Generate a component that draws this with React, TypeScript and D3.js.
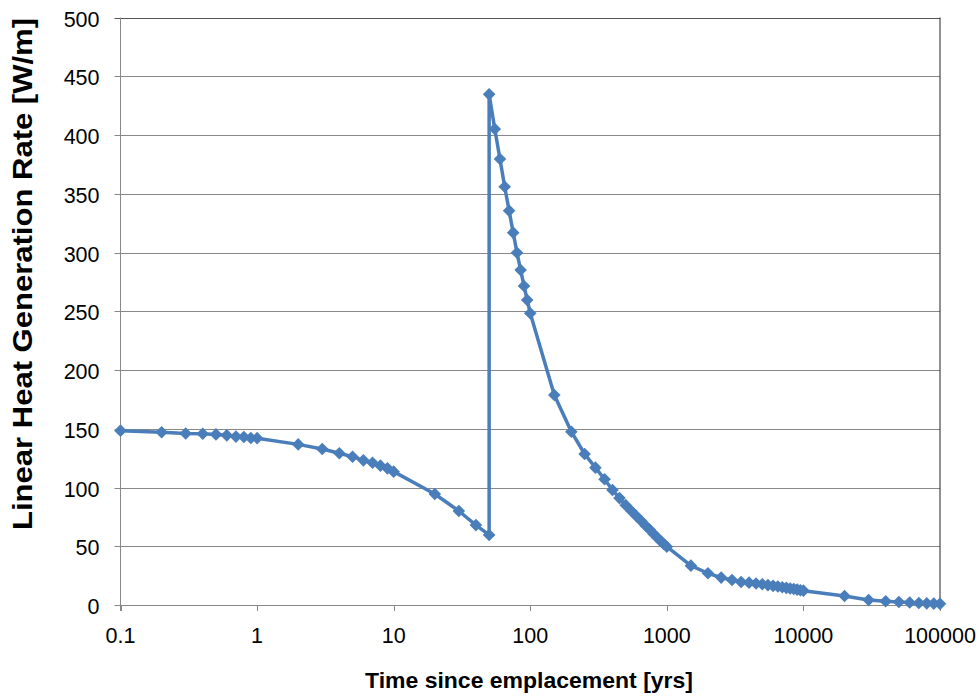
import React from "react";
import * as d3 from "d3";

const times: number[] = [
  0.1, 0.2, 0.3, 0.4, 0.5, 0.6, 0.7, 0.8, 0.9, 1,
  2, 3, 4, 5, 6, 7, 8, 9, 10,
  20, 30, 40, 50,
  50, 55, 60, 65, 70, 75, 80, 85, 90, 95, 100,
  150, 200, 250, 300, 350, 400, 450, 500, 550, 600, 650, 700, 750, 800, 850, 900, 950, 1000,
  1500, 2000, 2500, 3000, 3500, 4000, 4500, 5000, 5500, 6000, 6500, 7000, 7500, 8000, 8500, 9000, 9500, 10000,
  20000, 30000, 40000, 50000, 60000, 70000, 80000, 90000, 100000,
];

const heatRate: number[] = [
  148.4, 147, 146, 145.8, 145.2, 144.4, 143.3, 143, 142.1, 142,
  136.7, 132.8, 129.1, 126.2, 123.1, 121.1, 118.6, 116.3, 113.5,
  94.5, 80, 68, 59.6,
  434.6, 405.1, 379.6, 356, 335.6, 316.9, 299.8, 285.1, 271.5, 259.6, 248.3,
  178.7, 147.5, 128.5, 116.9, 107, 97.9, 91, 85, 80, 75.5, 71.5, 67.5, 64, 60.5, 57.5, 54.5, 52, 49.6,
  33.5, 27, 23.3, 21.3, 19.6, 19, 18.3, 17.6, 16.9, 16.3, 15.7, 15.1, 14.6, 14.1, 13.6, 13.1, 12.6, 12.2,
  7.7, 4.3, 3.2, 2.6, 2.1, 1.7, 1.4, 1.2, 1.0,
];

const xTicks: number[] = [0.1, 1, 10, 100, 1000, 10000, 100000];
const xTickLabels: string[] = ["0.1", "1", "10", "100", "1000", "10000", "100000"];
const yTicks: number[] = [0, 50, 100, 150, 200, 250, 300, 350, 400, 450, 500];

const xTitle = "Time since emplacement [yrs]";
const yTitle = "Linear Heat Generation Rate [W/m]";

export default function App() {
  const W = 980;
  const H = 698;
  const left = 120.5;
  const right = 940;
  const top = 17.5;
  const bottom = 605;

  const x = d3.scaleLog().domain([0.1, 100000]).range([left, right]);
  const y = d3.scaleLinear().domain([0, 500]).range([bottom, top]);

  const pts = times.map((t, i) => [x(t), y(heatRate[i])] as [number, number]);
  const line = d3.line<[number, number]>().x((d) => d[0]).y((d) => d[1]);

  const blue = "#4A7EBB";
  const grid = "#888888";
  const font = "'Liberation Sans', Arial, sans-serif";
  const r = 6.3;
  const diamond = `M0,${-r}L${r},0L0,${r}L${-r},0Z`;

  return (
    <svg
      width={W}
      height={H}
      style={{ position: "absolute", left: 0, top: 0, background: "#fff" }}
      fontFamily={font}
    >
      <rect x={0} y={0} width={W} height={H} fill="#fff" />
      {yTicks.map((v) => (
        <line
          key={"g" + v}
          x1={left - 6}
          x2={right}
          y1={Math.round(y(v)) + 0.5}
          y2={Math.round(y(v)) + 0.5}
          stroke={v === 500 ? "#555" : grid}
          strokeWidth={1}
        />
      ))}
      <line x1={left} x2={left} y1={top} y2={bottom + 6} stroke={grid} strokeWidth={1} />
      <line x1={right} x2={right} y1={top} y2={bottom} stroke="#222" strokeWidth={1} />
      {xTicks.map((t) => (
        <line
          key={"xt" + t}
          x1={Math.round(x(t)) + 0.5}
          x2={Math.round(x(t)) + 0.5}
          y1={bottom}
          y2={bottom + 6}
          stroke={grid}
          strokeWidth={1}
        />
      ))}
      {yTicks.map((v) => (
        <text
          key={"yl" + v}
          x={99.5}
          y={y(v) + 9}
          textAnchor="end"
          fontSize={21.5}
          fill="#000"
        >
          {v}
        </text>
      ))}
      {xTicks.map((t, i) => (
        <text
          key={"xl" + t}
          x={x(t)}
          y={643}
          textAnchor="middle"
          fontSize={21.5}
          fill="#000"
        >
          {xTickLabels[i]}
        </text>
      ))}
      <path d={line(pts) || ""} fill="none" stroke={blue} strokeWidth={3.5} strokeLinejoin="round" />
      {pts.map((p, i) => (
        <path key={"m" + i} d={diamond} transform={`translate(${p[0]},${p[1]})`} fill={blue} />
      ))}
      <text
        x={529}
        y={688}
        textAnchor="middle"
        fontSize={22}
        fontWeight="bold"
        fill="#000"
        textLength={328}
        lengthAdjust="spacingAndGlyphs"
      >
        {xTitle}
      </text>
      <text
        transform={`translate(32,274) rotate(-90)`}
        textAnchor="middle"
        fontSize={27}
        fontWeight="bold"
        fill="#000"
        textLength={512}
        lengthAdjust="spacingAndGlyphs"
      >
        {yTitle}
      </text>
    </svg>
  );
}
